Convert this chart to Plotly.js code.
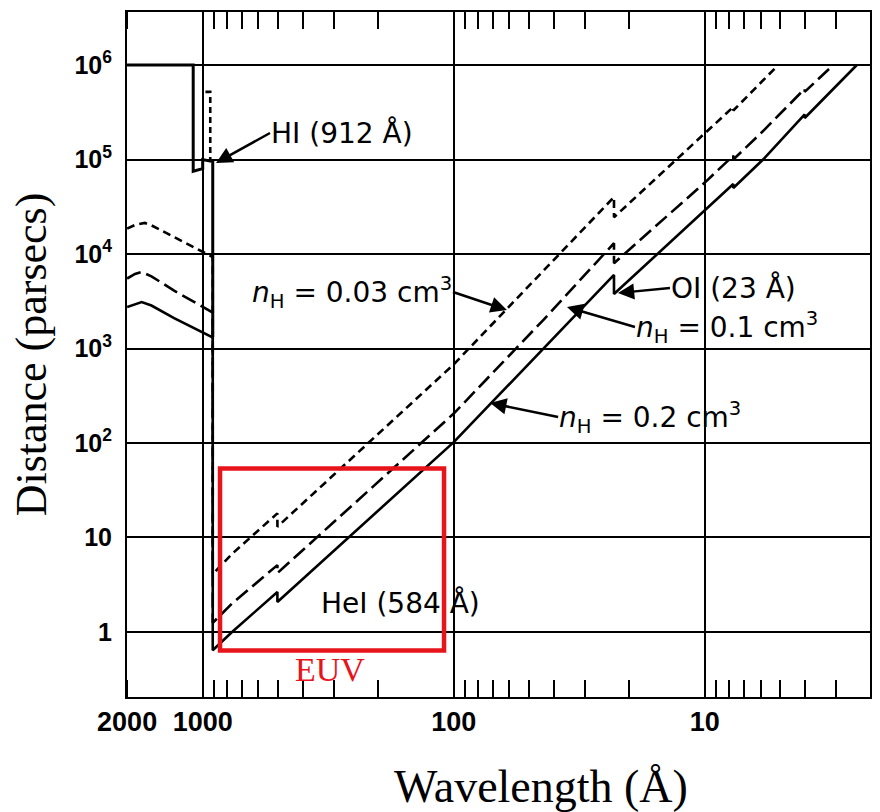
<!DOCTYPE html>
<html><head><meta charset="utf-8">
<script src="https://cdn.plot.ly/plotly-3.0.1.min.js"></script>
<style>body{margin:0;background:#fff}#chart{width:880px;height:812px}</style>
</head><body><div id="chart"></div>
<script>
// n_H = 0.2 cm^-3 (solid)
const lam02 = [2000, 1860, 1750, 1600, 1300, 917, 912, 912, 764, 504, 504, 100, 44, 23, 23, 10, 7.7, 7.7, 5.86, 4.0, 4.0, 2.48];
const d02   = [2750, 2960, 3100, 2850, 2100, 1320, 1320, 0.64, 1.0, 2.65, 2.08, 102, 1000, 6000, 3770, 28500, 55000, 50000, 100000, 300000, 275000, 1000000];
// n_H = 0.1 cm^-3 (long dash)
const lam01 = [2000, 1860, 1750, 1600, 1300, 917, 912, 912, 764, 504, 504, 100, 44, 23, 23, 10, 7.7, 7.7, 5.86, 4.0, 4.0, 3.08];
const d01   = [5500, 6150, 6450, 5800, 4100, 2400, 2400, 1.25, 2.0, 5.1, 4.2, 205, 2000, 13000, 8000, 57000, 110000, 100000, 200000, 560000, 520000, 1000000];
// n_H = 0.03 cm^-3 (short dash)
const lam003 = [2000, 1860, 1700, 1600, 1300, 977, 912, 912, 764, 504, 504, 100, 44, 23, 23, 10, 7.7, 7.7, 5.1];
const d003   = [18600, 20300, 21300, 20100, 15100, 10200, 9300, 4.1, 6.7, 18, 13, 680, 6700, 40000, 24500, 190000, 360000, 330000, 1000000];
// upper structure near the Lyman edge
const lamTopSolid = [2000, 1091, 1091, 1000, 1000, 912, 912];
const dTopSolid   = [1000000, 1000000, 75000, 80000, 100000, 95000, 1320];
const lamTopDash  = [975, 933, 933];
const dTopDash    = [520000, 520000, 100000];

const xTickVals = [2000, 1000, 100, 10];
const xTickText = ['2000', '1000', '100', '10'];
const yTickVals = [1, 10, 100, 1000, 10000, 100000, 1000000];
const yTickText = ['1', '10', '10<sup>2</sup>', '10<sup>3</sup>', '10<sup>4</sup>', '10<sup>5</sup>', '10<sup>6</sup>'];

const lineBase = {color: '#000', width: 2.6};
const traces = [
  {x: lam02, y: d02, name: 'n_H = 0.2', mode: 'lines', line: Object.assign({}, lineBase, {dash: 'solid'}), hoverinfo: 'skip'},
  {x: lam01, y: d01, name: 'n_H = 0.1', mode: 'lines', line: Object.assign({}, lineBase, {dash: '15px,6px'}), hoverinfo: 'skip'},
  {x: lam003, y: d003, name: 'n_H = 0.03', mode: 'lines', line: Object.assign({}, lineBase, {dash: '8px,5px'}), hoverinfo: 'skip'},
  {x: lamTopSolid, y: dTopSolid, name: 'upper', mode: 'lines', line: Object.assign({}, lineBase, {width: 3}), hoverinfo: 'skip'},
  {x: lamTopDash, y: dTopDash, name: 'upper dash', mode: 'lines', xaxis: 'x2', yaxis: 'y',
   line: Object.assign({}, lineBase, {dash: '6px,4px'}), hoverinfo: 'skip'}
];

const txtFont = {family: 'DejaVu Sans, Verdana, sans-serif', size: 28, color: '#000'};
const arr = {showarrow: true, arrowhead: 2, arrowsize: 1.3, arrowwidth: 2.5, arrowcolor: '#000',
             xref: 'x', yref: 'y', font: txtFont, yanchor: 'middle', borderpad: 0};
const annotations = [
  Object.assign({}, arr, {text: 'HI (912 Å)', x: 2.947, y: 4.963, ax: 54, ay: -30, xanchor: 'left'}),
  Object.assign({}, arr, {text: '<i>n</i><sub>H</sub> = 0.03 cm<sup>3</sup>', x: 1.788, y: 3.407, ax: -54, ay: -18, xanchor: 'right'}),
  Object.assign({}, arr, {text: 'OI (23 Å)', x: 1.346, y: 3.587, ax: 52, ay: -5, xanchor: 'left'}),
  Object.assign({}, arr, {text: '<i>n</i><sub>H</sub> = 0.1 cm<sup>3</sup>', x: 1.549, y: 3.439, ax: 68, ay: 20, xanchor: 'left'}),
  Object.assign({}, arr, {text: '<i>n</i><sub>H</sub> = 0.2 cm<sup>3</sup>', x: 1.855, y: 2.423, ax: 68, ay: 14, xanchor: 'left'}),
  {text: 'HeI (584 Å)', xref: 'x', yref: 'y', x: 2.214, y: 0.307, showarrow: false, font: txtFont},
  {text: 'EUV', xref: 'x', yref: 'y', x: 2.493, y: -0.402, showarrow: false,
   font: {family: 'Liberation Serif, Times New Roman, serif', size: 34, color: '#e8141c'}},
  {text: 'Wavelength (Å)', xref: 'paper', yref: 'paper', x: 0.557, y: -0.131, showarrow: false,
   xanchor: 'center', yanchor: 'middle',
   font: {family: 'Liberation Serif, Times New Roman, serif', size: 46, color: '#000'}}
];

const xCommon = {
  type: 'log', range: [3.3015, 0.342],
  showline: true, linecolor: '#000', linewidth: 2, zeroline: false,
  minor: {ticks: 'inside', ticklen: 17, tickwidth: 2, tickcolor: '#000', dtick: 'D1', showgrid: false}
};

const layout = {
  width: 880, height: 812,
  margin: {l: 127, r: 10, t: 12, b: 115},
  paper_bgcolor: '#fff', plot_bgcolor: '#fff',
  showlegend: false,
  xaxis: Object.assign({}, xCommon, {
    tickmode: 'array', tickvals: xTickVals, ticktext: xTickText,
    ticks: '', showgrid: true, gridcolor: '#000', gridwidth: 2,
    tickfont: {family: 'Liberation Sans, Arial, sans-serif', size: 27, color: '#000', weight: 'bold'}
  }),
  xaxis2: Object.assign({}, xCommon, {
    overlaying: 'x', side: 'top', anchor: 'y', showticklabels: false,
    ticks: '', showgrid: false, tickmode: 'array', tickvals: xTickVals
  }),
  yaxis: {
    type: 'log', range: [-0.688, 6.561],
    tickmode: 'array', tickvals: yTickVals, ticktext: yTickText,
    ticks: '', showgrid: true, gridcolor: '#000', gridwidth: 2,
    showline: true, linecolor: '#000', linewidth: 2, mirror: true, zeroline: false,
    ticklabelstandoff: 8,
    tickfont: {family: 'Liberation Sans, Arial, sans-serif', size: 25, color: '#000', weight: 'bold'},
    title: {text: 'Distance (parsecs)', standoff: 14,
      font: {family: 'Liberation Serif, Times New Roman, serif', size: 44, color: '#000'}}
  },
  shapes: [
    {type: 'rect', xref: 'x', yref: 'y', x0: 853, x1: 109.3, y0: 0.637, y1: 53.7,
     line: {color: '#e8141c', width: 4.5}, fillcolor: 'rgba(0,0,0,0)'}
  ],
  annotations: annotations
};

Plotly.newPlot('chart', traces, layout, {displayModeBar: false, staticPlot: true});
</script>
</body></html>
